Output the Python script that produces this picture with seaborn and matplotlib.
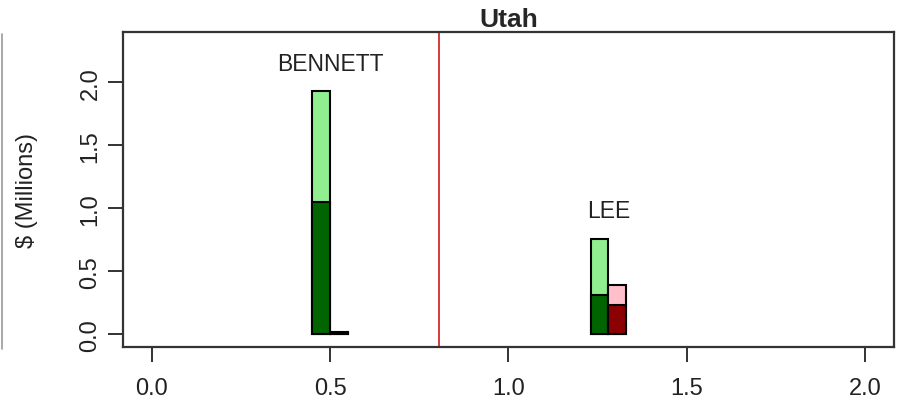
import numpy as np
import pandas as pd
import matplotlib
matplotlib.use("Agg")
import matplotlib.pyplot as plt
from matplotlib.lines import Line2D
import seaborn as sns

# Candidate spending in Utah, $ millions
candidates = ["BENNETT", "LEE"]
centers = [0.50, 1.28]
support_total = [1.93, 0.76]     # light green: all spending for
support_part = [1.05, 0.31]      # dark green: portion of the above
oppose_total = [0.02, 0.39]      # pink: all spending against
oppose_part = [0.01, 0.23]       # dark red: portion of the above
divider_x = 0.806

x_ticks = [0.0, 0.5, 1.0, 1.5, 2.0]
y_ticks = [0.0, 0.5, 1.0, 1.5, 2.0]

BAR_W = 0.05

sns.set_style("white")
plt.rcParams["font.family"] = ["Liberation Sans", "DejaVu Sans"]

fig = plt.figure(figsize=(9.06, 4.06), dpi=100)
ax = fig.add_axes([123 / 906, 1 - 348 / 406, (894 - 123) / 906, (348 - 33) / 406])

layers = [
    (support_total, -0.5, "#90EE90"),
    (support_part, -0.5, "#006400"),
    (oppose_total, 0.5, "#FFC0CB"),
    (oppose_part, 0.5, "#8B0000"),
]
for values, side, color in layers:
    for c, v in zip(centers, values):
        if v <= 0:
            continue
        df = pd.DataFrame({"x": [c + side * BAR_W], "y": [v]})
        sns.barplot(data=df, x="x", y="y", native_scale=True, width=BAR_W,
                    color=color, saturation=1, edgecolor="black",
                    linewidth=1.5, errorbar=None, ax=ax)

for name, c, top in zip(candidates, centers, support_total):
    ax.text(c, top + 0.22, name, ha="center", va="center", fontsize=16.5,
            color="#222222")

ax.axvline(divider_x, color="#d01818", lw=1.2)

ax.set_xlim(-0.08, 2.08)
ax.set_ylim(-0.1, 2.4)
ax.set_xticks(x_ticks)
ax.set_xticklabels([f"{t:.1f}" for t in x_ticks])
ax.set_yticks(y_ticks)
ax.set_yticklabels([f"{t:.1f}" for t in y_ticks], rotation=90, va="center")
ax.tick_params(axis="both", bottom=True, left=True, direction="out",
               length=10.5, width=1.3, labelsize=17, color="#222222",
               labelcolor="#222222")
ax.tick_params(axis="x", pad=11)
ax.tick_params(axis="y", pad=5)
ax.set_xlabel("")
ax.set_ylabel("$ (Millions)", fontsize=17, labelpad=30, color="#222222")
ax.set_title("Utah", fontsize=19, fontweight="bold", pad=4)
for s in ax.spines.values():
    s.set_visible(True)
    s.set_color("#333333")
    s.set_linewidth(1.6)

# border of the neighbouring panel along the left edge
fig.add_artist(Line2D([1.5 / 906, 1.5 / 906], [1 - 350 / 406, 1 - 35 / 406],
                      transform=fig.transFigure, color="#9a9a9a", lw=1.2))

fig.savefig("out.png", dpi=100)
